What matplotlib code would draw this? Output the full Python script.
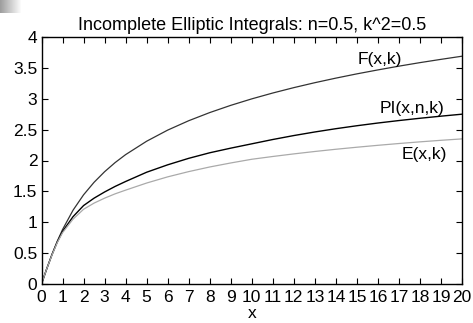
import numpy as np
import matplotlib
matplotlib.use("Agg")
import matplotlib.pyplot as plt

plt.rcParams['font.family'] = ['Liberation Sans', 'DejaVu Sans']

# values
x_vals = [0, 0.25, 0.5, 0.75, 1, 1.5, 2, 2.5, 3, 3.5, 4, 5, 6, 7, 8, 9, 10,
          11, 12, 13, 14, 15, 16, 17, 18, 19, 20]
f_vals = [0, 0.247, 0.481, 0.693, 0.881, 1.195, 1.444, 1.647, 1.818, 1.966,
          2.095, 2.312, 2.492, 2.644, 2.776, 2.893, 2.998, 3.093, 3.180,
          3.260, 3.334, 3.403, 3.467, 3.528, 3.585, 3.638, 3.689]
pi_vals = [0, 0.247, 0.476, 0.680, 0.850, 1.090, 1.270, 1.390, 1.490, 1.580,
           1.660, 1.810, 1.930, 2.035, 2.125, 2.200, 2.270, 2.340, 2.404,
           2.462, 2.515, 2.563, 2.607, 2.647, 2.684, 2.718, 2.750]
e_vals = [0, 0.247, 0.470, 0.670, 0.830, 1.050, 1.210, 1.310, 1.390, 1.460,
          1.520, 1.635, 1.735, 1.820, 1.895, 1.960, 2.020, 2.065, 2.107,
          2.146, 2.182, 2.215, 2.246, 2.275, 2.302, 2.327, 2.350]

labels = ["F(x,k)", "PI(x,n,k)", "E(x,k)"]
label_pos = [(16.1, 3.64), (17.6, 2.85), (18.2, 2.10)]

fig = plt.figure(figsize=(4.73, 3.23), dpi=100)

# small grey gradient in the top left corner
grad = np.linspace(0.62, 1.0, 22)
grad = np.tile(grad, (13, 1))
fig.figimage(np.dstack([grad, grad, grad]), xo=0, yo=323 - 13, origin='upper')

ax = fig.add_axes([41.5 / 473, 39 / 323, 420.5 / 473, 247 / 323])

ax.plot(x_vals, f_vals, color='#333333', lw=0.9)
ax.plot(x_vals, pi_vals, color='black', lw=1.0)
ax.plot(x_vals, e_vals, color='#aaaaaa', lw=0.9)

for txt, (tx, ty) in zip(labels, label_pos):
    ax.text(tx, ty, txt, ha='center', va='center', fontsize=12.5)

ax.set_xlim(0, 20)
ax.set_ylim(0, 4)
ax.set_xticks(range(0, 21))
ax.set_yticks([0, 0.5, 1, 1.5, 2, 2.5, 3, 3.5, 4])
ax.set_yticklabels(['0', '0.5', '1', '1.5', '2', '2.5', '3', '3.5', '4'])
ax.tick_params(direction='in', top=True, right=True, length=4, width=0.8,
               labelsize=12.5)
ax.tick_params(axis='x', pad=4)
ax.tick_params(axis='y', pad=3)
for s in ax.spines.values():
    s.set_linewidth(1.0)

ax.set_title("Incomplete Elliptic Integrals: n=0.5, k^2=0.5", fontsize=13, pad=5)
ax.set_xlabel("x", fontsize=12.5, labelpad=1)

fig.savefig("out.png", dpi=100)
